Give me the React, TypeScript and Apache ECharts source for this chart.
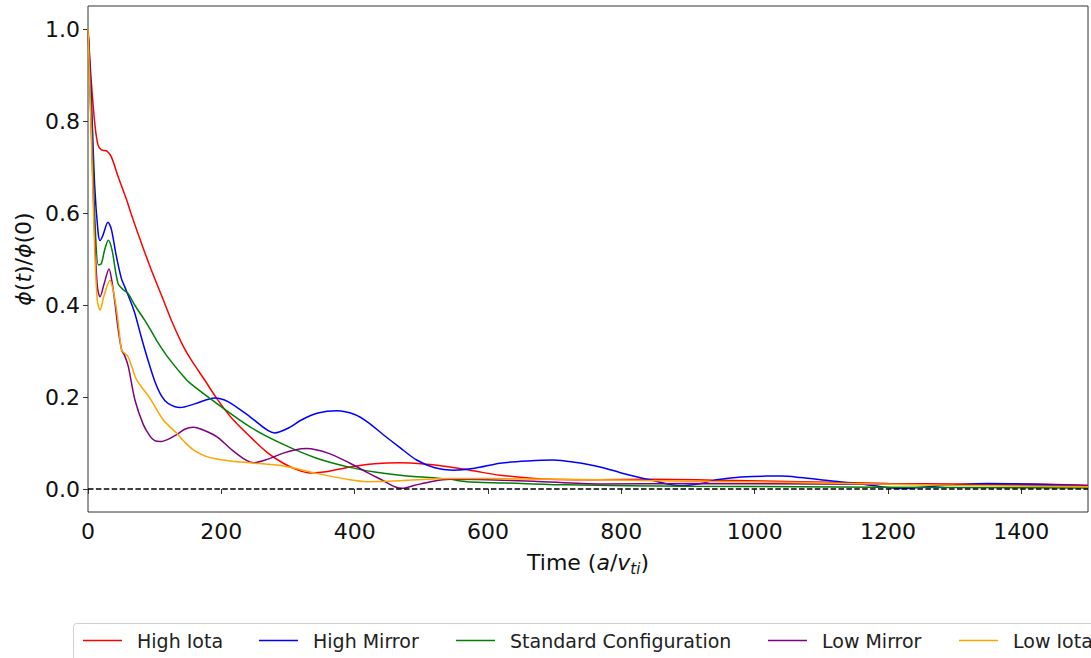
import React, { useEffect, useRef } from "react";
import * as echarts from "echarts";

const seriesNames = ["High Iota", "High Mirror", "Standard Configuration", "Low Mirror", "Low Iota"];
const seriesColors = ["#ff0000", "#0000ff", "#008000", "#800080", "#ffa500"];
const legendLefts = [83, 259, 456, 768, 959];

const xTicks = [0, 200, 400, 600, 800, 1000, 1200, 1400];
const yTicks = [0, 0.2, 0.4, 0.6, 0.8, 1.0];

const highIota: [number, number][] = [
  [0, 1.0], [3, 0.93], [5.5, 0.875], [10.5, 0.79], [15, 0.748], [20, 0.737], [28, 0.735], [35, 0.722],
  [45, 0.68], [58, 0.628], [65, 0.597], [80, 0.535], [95, 0.476], [113, 0.411], [125, 0.367], [143, 0.31],
  [155, 0.28], [175, 0.237], [193, 0.197], [215, 0.155], [243, 0.114], [270, 0.078], [293, 0.056],
  [315, 0.041], [333, 0.035], [360, 0.038], [393, 0.048], [430, 0.055], [468, 0.057], [500, 0.055],
  [543, 0.048], [580, 0.039], [618, 0.03], [693, 0.021], [760, 0.02], [843, 0.021], [950, 0.019],
  [1068, 0.016], [1200, 0.012], [1300, 0.011], [1400, 0.011], [1500, 0.008],
];

const highMirror: [number, number][] = [
  [0, 1.0], [5, 0.85], [10, 0.66], [15, 0.56], [18, 0.54], [22, 0.55], [30, 0.58], [35, 0.565],
  [42, 0.51], [50, 0.458], [55, 0.44], [63, 0.411], [70, 0.383], [80, 0.33], [90, 0.28], [100, 0.235],
  [110, 0.203], [120, 0.186], [138, 0.177], [160, 0.185], [190, 0.198], [210, 0.19], [243, 0.157],
  [280, 0.122], [300, 0.132], [320, 0.15], [345, 0.165], [373, 0.17], [400, 0.162], [420, 0.145],
  [443, 0.118], [468, 0.09], [493, 0.063], [520, 0.046], [548, 0.041], [580, 0.045], [618, 0.056],
  [660, 0.061], [698, 0.063], [730, 0.058], [768, 0.048], [800, 0.035], [843, 0.02], [888, 0.007],
  [920, 0.012], [943, 0.02], [980, 0.026], [1018, 0.028], [1040, 0.028], [1068, 0.025], [1113, 0.018],
  [1160, 0.011], [1190, 0.005], [1220, 0.001], [1250, 0.004], [1300, 0.009], [1350, 0.012],
  [1400, 0.011], [1450, 0.009], [1500, 0.007],
];

const standardConfig: [number, number][] = [
  [0, 1.0], [5, 0.82], [10, 0.6], [15.5, 0.487], [20, 0.49], [25, 0.52], [30.5, 0.541], [36, 0.52],
  [45, 0.447], [53, 0.433], [60, 0.425], [70, 0.4], [85, 0.367], [93, 0.348], [105, 0.318], [118, 0.29],
  [143, 0.245], [153, 0.23], [193, 0.186], [243, 0.135], [293, 0.097], [343, 0.067], [393, 0.047],
  [430, 0.037], [468, 0.03], [543, 0.021], [568, 0.016], [650, 0.012], [718, 0.009], [900, 0.006],
  [1068, 0.005], [1300, 0.003], [1500, 0.002],
];

const lowMirror: [number, number][] = [
  [0, 1.0], [5, 0.78], [10, 0.55], [14, 0.44], [18, 0.418], [24, 0.445], [31.5, 0.478], [36, 0.45],
  [40.5, 0.404], [45, 0.35], [50.5, 0.302], [55, 0.29], [60.5, 0.266], [70.5, 0.193], [83, 0.14],
  [93, 0.115], [100, 0.105], [108, 0.103], [120, 0.108], [133, 0.118], [145, 0.13], [158, 0.134],
  [170, 0.13], [193, 0.114], [220, 0.08], [248, 0.057], [270, 0.065], [293, 0.078], [310, 0.085],
  [328, 0.088], [360, 0.078], [393, 0.056], [420, 0.035], [443, 0.018], [460, 0.005], [472, 0.0015],
  [490, 0.008], [518, 0.017], [543, 0.021], [600, 0.02], [668, 0.017], [768, 0.011], [900, 0.012],
  [1100, 0.011], [1300, 0.009], [1500, 0.007],
];

const lowIota: [number, number][] = [
  [0, 1.0], [5, 0.77], [10, 0.52], [14, 0.41], [18, 0.389], [24, 0.42], [33, 0.454], [38, 0.43],
  [43, 0.389], [47, 0.34], [50.5, 0.302], [55, 0.295], [60, 0.288], [66, 0.265], [73, 0.237],
  [93, 0.197], [113, 0.15], [133, 0.121], [145, 0.102], [158, 0.085], [175, 0.072], [193, 0.065],
  [220, 0.06], [243, 0.057], [293, 0.05], [343, 0.034], [393, 0.02], [418, 0.016], [468, 0.018],
  [543, 0.023], [650, 0.022], [768, 0.02], [900, 0.017], [1068, 0.014], [1300, 0.008], [1500, 0.005],
];

const zeroLine: [number, number][] = [[0, 0], [1500, 0]];

const allSeries = [highIota, highMirror, standardConfig, lowMirror, lowIota];

const FONT = "DejaVu Sans";

export default function App() {
  const ref = useRef<HTMLDivElement>(null);
  useEffect(() => {
    if (!ref.current) return;
    const chart = echarts.init(ref.current, null, { renderer: "svg" });
    const lineSeries: any[] = allSeries.map((d, i) => ({
      name: seriesNames[i],
      type: "line",
      data: d,
      symbol: "none",
      smooth: 0.3,
      lineStyle: { color: seriesColors[i], width: 1.5 },
      itemStyle: { color: seriesColors[i] },
      z: 3 + i,
    }));
    lineSeries.push({
      name: "zero",
      type: "line",
      data: zeroLine,
      symbol: "none",
      lineStyle: { color: "#000", width: 1.5, type: [5.5, 2.4] },
      z: 10,
      silent: true,
    });
    const legends = seriesNames.map((n, i) => ({
      data: [n],
      left: legendLefts[i],
      top: 631,
      padding: 0,
      icon: "rect",
      itemWidth: 39,
      itemHeight: 1.5,
      selectedMode: false,
      textStyle: { fontFamily: FONT, fontSize: 19, color: "#222", padding: [0, 0, 0, 10] },
    }));
    chart.setOption({
      animation: false,
      backgroundColor: "#fff",
      grid: {
        left: 88, top: 6, width: 1000, height: 506,
        show: true, borderColor: "#333", borderWidth: 1, backgroundColor: "transparent",
      },
      graphic: [
        {
          type: "rect",
          left: 73, top: 623,
          shape: { width: 1040, height: 50, r: 3 },
          style: { fill: "#fff", stroke: "#d0d0d0", lineWidth: 1 },
          z: -1,
        },
      ],
      legend: legends,
      xAxis: {
        type: "value",
        min: 0, max: 1500,
        name: "{n|Time (}{i|a}{n|/}{i|v}{s|ti}{n|)}",
        nameLocation: "middle",
        nameGap: 36,
        nameTextStyle: {
          rich: {
            n: { fontFamily: FONT, fontSize: 22, color: "#111", lineHeight: 28, verticalAlign: "middle" },
            i: { fontFamily: FONT, fontSize: 22, fontStyle: "italic", color: "#111", lineHeight: 28, verticalAlign: "middle" },
            s: { fontFamily: FONT, fontSize: 15, fontStyle: "italic", color: "#111", lineHeight: 16, verticalAlign: "bottom" },
          },
        },
        axisLine: { show: false },
        splitLine: { show: false },
        axisTick: { show: true, inside: false, length: 5, customValues: xTicks, lineStyle: { color: "#333", width: 1 } },
        axisLabel: {
          customValues: xTicks,
          margin: 8,
          fontFamily: FONT, fontSize: 22, color: "#111",
          formatter: (v: number) => String(Math.round(v)),
        },
      },
      yAxis: {
        type: "value",
        min: -0.05, max: 1.05,
        name: "{i|ϕ}{n|(}{i|t}{n|)/}{i|ϕ}{n|(0)}",
        nameLocation: "middle",
        nameRotate: 90,
        nameGap: 54,
        nameTextStyle: {
          rich: {
            n: { fontFamily: FONT, fontSize: 22, color: "#111" },
            i: { fontFamily: FONT, fontSize: 22, fontStyle: "italic", color: "#111" },
          },
        },
        axisLine: { show: false },
        splitLine: { show: false },
        axisTick: { show: true, inside: false, length: 5, customValues: yTicks, lineStyle: { color: "#333", width: 1 } },
        axisLabel: {
          customValues: yTicks,
          margin: 8,
          fontFamily: FONT, fontSize: 22, color: "#111",
          formatter: (v: number) => v.toFixed(1),
        },
      },
      series: lineSeries,
    });
    return () => chart.dispose();
  }, []);
  return (
    <div
      ref={ref}
      style={{ position: "fixed", left: 0, top: 0, width: 1091, height: 658, background: "#fff" }}
    />
  );
}
